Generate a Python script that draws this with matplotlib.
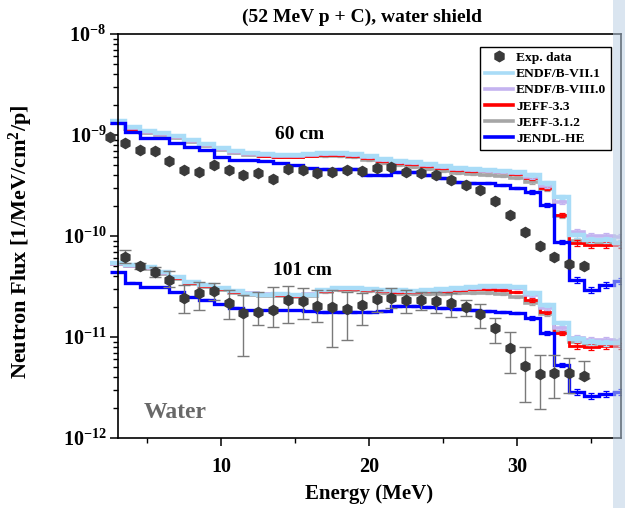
import numpy as np
import matplotlib.pyplot as plt
from matplotlib.lines import Line2D
from matplotlib.patches import Rectangle
from matplotlib.ticker import FixedLocator, FuncFormatter, NullFormatter

# Fonts: Times-like bold everywhere, bold math for superscripts
plt.rcParams['font.family'] = ['Liberation Serif', 'DejaVu Serif']
plt.rcParams['font.weight'] = 'bold'
plt.rcParams['mathtext.fontset'] = 'custom'
plt.rcParams['mathtext.rm'] = 'Liberation Serif:bold'
plt.rcParams['mathtext.bf'] = 'Liberation Serif:bold'
plt.rcParams['mathtext.it'] = 'Liberation Serif:bold:italic'

# Data
## Calculation bin centres (MeV), 1 MeV bins
calc_energy = list(range(3, 38))

## 60 cm calculations
endf71_60 = [1.38e-9, 1.20e-9, 1.10e-9, 1.05e-9, 9.77e-10, 8.92e-10, 8.14e-10, 7.43e-10, 6.94e-10,
             6.63e-10, 6.48e-10, 6.34e-10, 6.34e-10, 6.48e-10, 6.63e-10, 6.63e-10, 6.48e-10, 6.20e-10,
             5.79e-10, 5.53e-10, 5.40e-10, 5.16e-10, 4.93e-10, 4.71e-10, 4.61e-10, 4.50e-10, 4.40e-10,
             4.30e-10, 4.02e-10, 3.35e-10, 2.43e-10, 1.02e-10, 9.13e-11, 9.13e-11, 8.53e-11]
endf80_60 = [1.345e-9, 1.173e-9, 1.071e-9, 1.023e-9, 9.55e-10, 8.72e-10, 7.96e-10, 7.27e-10, 6.79e-10,
             6.49e-10, 6.34e-10, 6.20e-10, 6.20e-10, 6.34e-10, 6.49e-10, 6.49e-10, 6.34e-10, 6.06e-10,
             5.66e-10, 5.40e-10, 5.28e-10, 5.05e-10, 4.82e-10, 4.61e-10, 4.50e-10, 4.40e-10, 4.30e-10,
             4.21e-10, 3.84e-10, 3.13e-10, 2.17e-10, 1.10e-10, 1.00e-10, 1.00e-10, 9.77e-11]
jeff33_60 = [1.315e-9, 1.147e-9, 1.071e-9, 1.023e-9, 9.55e-10, 8.72e-10, 7.96e-10, 7.27e-10, 6.79e-10,
             6.49e-10, 6.20e-10, 6.06e-10, 6.06e-10, 6.20e-10, 6.34e-10, 6.34e-10, 6.20e-10, 5.92e-10,
             5.53e-10, 5.28e-10, 5.16e-10, 4.93e-10, 4.71e-10, 4.50e-10, 4.40e-10, 4.40e-10, 4.30e-10,
             4.11e-10, 3.75e-10, 2.99e-10, 1.61e-10, 8.53e-11, 8.15e-11, 8.15e-11, 8.15e-11]
jeff312_60 = [1.315e-9, 1.147e-9, 1.047e-9, 1.00e-9, 9.34e-10, 8.53e-10, 7.78e-10, 7.10e-10, 6.64e-10,
              6.34e-10, 6.20e-10, 6.06e-10, 6.06e-10, 6.20e-10, 6.20e-10, 6.20e-10, 6.06e-10, 5.66e-10,
              5.28e-10, 5.05e-10, 4.82e-10, 4.61e-10, 4.40e-10, 4.21e-10, 4.11e-10, 4.02e-10, 3.93e-10,
              3.75e-10, 3.43e-10, 2.92e-10, 1.59e-10, 8.92e-11, 8.53e-11, 8.53e-11, 8.34e-11]
jendl_60 = [1.315e-9, 1.071e-9, 9.34e-10, 9.34e-10, 8.33e-10, 7.61e-10, 7.10e-10, 6.06e-10, 5.66e-10,
            5.66e-10, 5.53e-10, 5.28e-10, 5.05e-10, 4.71e-10, 4.61e-10, 4.61e-10, 4.61e-10, 4.02e-10,
            4.02e-10, 4.30e-10, 4.30e-10, 4.02e-10, 3.75e-10, 3.43e-10, 3.35e-10, 3.35e-10, 3.20e-10,
            2.99e-10, 2.73e-10, 2.03e-10, 8.72e-11, 3.67e-11, 2.92e-11, 3.27e-11, 3.59e-11]

## 101 cm calculations
endf71_101 = [5.40e-11, 5.16e-11, 4.93e-11, 4.40e-11, 3.93e-11, 3.51e-11, 3.27e-11, 3.06e-11, 2.86e-11,
              2.67e-11, 2.61e-11, 2.67e-11, 2.61e-11, 2.61e-11, 2.92e-11, 3.06e-11, 3.06e-11, 2.99e-11,
              2.92e-11, 2.92e-11, 2.86e-11, 2.92e-11, 2.99e-11, 3.06e-11, 3.13e-11, 3.20e-11, 3.20e-11,
              3.13e-11, 2.73e-11, 2.07e-11, 1.38e-11, 9.55e-12, 8.92e-12, 8.72e-12, 8.72e-12]
endf80_101 = [5.28e-11, 5.05e-11, 4.82e-11, 4.30e-11, 3.93e-11, 3.51e-11, 3.27e-11, 3.06e-11, 2.86e-11,
              2.73e-11, 2.67e-11, 2.67e-11, 2.61e-11, 2.67e-11, 2.92e-11, 3.06e-11, 3.06e-11, 2.99e-11,
              2.92e-11, 2.86e-11, 2.86e-11, 2.92e-11, 2.92e-11, 2.99e-11, 3.06e-11, 3.13e-11, 3.13e-11,
              3.06e-11, 2.61e-11, 1.94e-11, 1.23e-11, 9.77e-12, 9.34e-12, 9.34e-12, 9.13e-12]
jeff33_101 = [5.28e-11, 5.05e-11, 4.82e-11, 4.30e-11, 3.84e-11, 3.43e-11, 3.20e-11, 2.99e-11, 2.79e-11,
              2.67e-11, 2.61e-11, 2.61e-11, 2.55e-11, 2.61e-11, 2.86e-11, 2.99e-11, 2.99e-11, 2.92e-11,
              2.86e-11, 2.79e-11, 2.79e-11, 2.86e-11, 2.86e-11, 2.92e-11, 2.99e-11, 2.99e-11, 2.92e-11,
              2.79e-11, 2.33e-11, 1.77e-11, 1.10e-11, 8.15e-12, 7.96e-12, 8.15e-12, 8.15e-12]
jeff312_101 = [5.28e-11, 5.05e-11, 4.71e-11, 4.21e-11, 3.75e-11, 3.35e-11, 3.13e-11, 2.92e-11, 2.73e-11,
               2.61e-11, 2.55e-11, 2.55e-11, 2.49e-11, 2.55e-11, 2.79e-11, 2.92e-11, 2.92e-11, 2.86e-11,
               2.73e-11, 2.67e-11, 2.67e-11, 2.67e-11, 2.67e-11, 2.73e-11, 2.73e-11, 2.73e-11, 2.67e-11,
               2.49e-11, 2.17e-11, 1.69e-11, 1.12e-11, 8.92e-12, 8.53e-12, 8.72e-12, 8.72e-12]
jendl_101 = [4.40e-11, 3.43e-11, 3.13e-11, 3.13e-11, 2.79e-11, 2.49e-11, 2.33e-11, 2.12e-11, 1.94e-11,
             1.85e-11, 1.85e-11, 1.85e-11, 1.85e-11, 1.81e-11, 1.77e-11, 1.77e-11, 1.77e-11, 1.77e-11,
             1.81e-11, 2.03e-11, 2.03e-11, 1.98e-11, 1.94e-11, 1.89e-11, 1.85e-11, 1.81e-11, 1.77e-11,
             1.73e-11, 1.54e-11, 1.10e-11, 5.28e-12, 2.86e-12, 2.61e-12, 2.73e-12, 2.86e-12]

## Relative statistical uncertainty of the calculations per bin
calc_rel_err = [0.01, 0.01, 0.01, 0.01, 0.01, 0.01, 0.01, 0.01, 0.01, 0.01, 0.01, 0.01, 0.01, 0.01,
                0.015, 0.015, 0.015, 0.015, 0.015, 0.02, 0.02, 0.02, 0.02, 0.025, 0.025, 0.03, 0.03,
                0.03, 0.04, 0.04, 0.05, 0.06, 0.07, 0.07, 0.07]

## Measurements
exp_energy_60 = np.arange(2.5, 35.0, 1.0)
exp_flux_60 = [9.62e-10, 8.39e-10, 7.10e-10, 6.99e-10, 5.57e-10, 4.50e-10, 4.33e-10, 5.05e-10, 4.50e-10,
               3.99e-10, 4.18e-10, 3.67e-10, 4.61e-10, 4.50e-10, 4.18e-10, 4.33e-10, 4.50e-10, 4.43e-10,
               4.68e-10, 4.85e-10, 4.33e-10, 4.21e-10, 4.02e-10, 3.59e-10, 3.20e-10, 2.85e-10, 2.24e-10,
               1.61e-10, 1.10e-10, 7.96e-11, 6.24e-11, 5.28e-11, 5.08e-11]

exp_energy_101 = np.arange(3.5, 35.0, 1.0)
exp_flux_101 = [6.24e-11, 5.05e-11, 4.43e-11, 3.67e-11, 2.42e-11, 2.71e-11, 2.87e-11, 2.19e-11, 1.74e-11,
                1.78e-11, 1.85e-11, 2.32e-11, 2.29e-11, 2.04e-11, 2.00e-11, 1.89e-11, 2.07e-11, 2.36e-11,
                2.42e-11, 2.32e-11, 2.32e-11, 2.29e-11, 2.16e-11, 2.00e-11, 1.68e-11, 1.22e-11, 7.83e-12,
                5.16e-12, 4.30e-12, 4.43e-12, 4.43e-12, 4.14e-12]
exp_high_101 = [7.27e-11, 5.44e-11, 4.97e-11, 4.53e-11, 3.27e-11, 3.53e-11, 3.40e-11, 2.92e-11, 2.60e-11,
                2.81e-11, 3.15e-11, 3.20e-11, 3.03e-11, 2.92e-11, 2.92e-11, 2.81e-11, 2.71e-11, 2.92e-11,
                3.03e-11, 2.92e-11, 2.81e-11, 2.81e-11, 2.71e-11, 2.32e-11, 2.11e-11, 1.53e-11, 1.13e-11,
                8.02e-12, 6.64e-12, 6.64e-12, 6.15e-12, 5.82e-12]
exp_low_101 = [5.44e-11, 4.68e-11, 3.95e-11, 3.15e-11, 1.74e-11, 1.85e-11, 2.32e-11, 1.51e-11, 6.49e-12,
               1.32e-11, 1.26e-11, 1.39e-11, 1.52e-11, 1.42e-11, 8.02e-12, 9.34e-12, 1.32e-11, 1.77e-11,
               1.92e-11, 1.74e-11, 1.85e-11, 1.74e-11, 1.59e-11, 1.61e-11, 1.22e-11, 8.78e-12, 4.37e-12,
               2.29e-12, 1.92e-12, 2.47e-12, 2.77e-12, 3.93e-12]

libraries = ['JEFF-3.1.2', 'JEFF-3.3', 'ENDF/B-VIII.0', 'ENDF/B-VII.1', 'JENDL-HE']
series_60 = {'ENDF/B-VII.1': endf71_60, 'ENDF/B-VIII.0': endf80_60, 'JEFF-3.3': jeff33_60,
             'JEFF-3.1.2': jeff312_60, 'JENDL-HE': jendl_60}
series_101 = {'ENDF/B-VII.1': endf71_101, 'ENDF/B-VIII.0': endf80_101, 'JEFF-3.3': jeff33_101,
              'JEFF-3.1.2': jeff312_101, 'JENDL-HE': jendl_101}

# Styles
styles = {
    'ENDF/B-VII.1': dict(color='#a9dcf7', lw=3.2),
    'ENDF/B-VIII.0': dict(color='#c4b3f0', lw=2.6),
    'JEFF-3.3': dict(color='#ff0000', lw=2.0),
    'JEFF-3.1.2': dict(color='#a6a6a6', lw=2.6),
    'JENDL-HE': dict(color='#0000ff', lw=2.4),
}
exp_color = '#3a3a3a'
x_min, x_max = 3, 37
decades = [1e-12, 1e-11, 1e-10, 1e-9, 1e-8]

fig = plt.figure(figsize=(6.25, 5.08), dpi=100)
ax = fig.add_axes([0.188, 0.1378, 0.8056, 0.7953])

centres = np.array(calc_energy, dtype=float)
edges = np.append(centres - 0.5, x_max)

## Step histograms with their small statistical bars
for lib in libraries:
    st = styles[lib]
    for vals in (series_60[lib], series_101[lib]):
        vals = np.array(vals)
        ax.stairs(vals, edges, color=st['color'], lw=st['lw'], baseline=None, clip_on=False, zorder=2)
        ax.errorbar(centres, vals, yerr=vals * np.array(calc_rel_err), fmt='none',
                    ecolor=st['color'], elinewidth=0.9, capsize=2.5, capthick=0.9, zorder=2)

## Measurements
ax.plot(exp_energy_60, exp_flux_60, 'h', color=exp_color, ms=7.3, mec=exp_color, clip_on=False, zorder=4)
f101 = np.array(exp_flux_101)
yerr_101 = [f101 - np.array(exp_low_101), np.array(exp_high_101) - f101]
ax.errorbar(exp_energy_101, f101, yerr=yerr_101, fmt='h', color=exp_color, ms=7.3, mec=exp_color,
            ecolor='#7a7a7a', elinewidth=1.0, capsize=4, capthick=1.0, zorder=4)

# Axes decoration
ax.set_yscale('log')
ax.set_xlim(x_min, x_max)
ax.set_ylim(decades[0], decades[-1])
ax.xaxis.set_major_locator(FixedLocator([10, 20, 30]))
ax.xaxis.set_minor_locator(FixedLocator([5, 15, 25, 35]))
ax.yaxis.set_major_locator(FixedLocator(decades))
minor_y = [m * d for d in decades[:-1] for m in range(2, 10)]
ax.yaxis.set_minor_locator(FixedLocator(minor_y))
ax.yaxis.set_minor_formatter(NullFormatter())
ax.yaxis.set_major_formatter(FuncFormatter(lambda v, p: r'$10^{%d}$' % round(np.log10(v))))
ax.tick_params(axis='both', which='major', direction='out', length=6, width=1.1, labelsize=14.5, pad=2)
ax.tick_params(axis='both', which='minor', direction='out', length=3.5, width=1.0)
ax.tick_params(axis='x', which='major', pad=8)
for lab in ax.get_xticklabels() + ax.get_yticklabels():
    lab.set_fontweight('bold')
for sp in ax.spines.values():
    sp.set_linewidth(1.2)

fig.text(362 / 625, 1 - 17 / 508, '(52 MeV p + C), water shield', ha='center', va='center',
         fontsize=14, fontweight='bold')
ax.set_xlabel('Energy (MeV)', fontsize=15, fontweight='bold', labelpad=5)
fig.text(0.033, 0.524, 'Neutron Flux [1/MeV/cm$^2$/p]', ha='center', va='center', rotation=90,
         fontsize=16, fontweight='bold')

ax.text(15.3, 1.0e-9, '60 cm', ha='center', va='center', fontsize=14, fontweight='bold', zorder=5)
ax.text(15.5, 4.6e-11, '101 cm', ha='center', va='center', fontsize=14, fontweight='bold', zorder=5)
ax.text(6.9, 1.8e-12, 'Water', ha='center', va='center', fontsize=17, fontweight='bold',
        color='#686868', zorder=5)

## Legend
handles = [Line2D([], [], ls='none', marker='h', ms=7.5, color=exp_color)]
labels = ['Exp. data']
for lib in ['ENDF/B-VII.1', 'ENDF/B-VIII.0', 'JEFF-3.3', 'JEFF-3.1.2', 'JENDL-HE']:
    handles.append(Line2D([], [], color=styles[lib]['color'], lw=2.6))
    labels.append(lib)
leg = ax.legend(handles, labels, loc='upper right', bbox_to_anchor=(0.980, 0.968),
                prop={'family': 'Liberation Serif', 'weight': 'bold', 'size': 9.7},
                frameon=True, fancybox=False, edgecolor='black', framealpha=1,
                handlelength=2.1, handletextpad=0.2, labelspacing=0.28, borderpad=0.35,
                borderaxespad=0)
leg.get_frame().set_linewidth(1.0)
leg.set_zorder(6)

## Light window-edge stripe along the right border
fig.patches.append(Rectangle((613 / 625, 0), 12 / 625, 1, transform=fig.transFigure,
                             facecolor='#bcd0e4', alpha=0.55, edgecolor='none', zorder=10))

fig.savefig('out.png', dpi=100)
